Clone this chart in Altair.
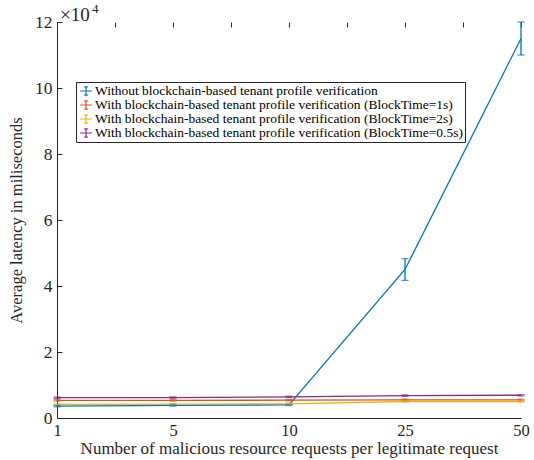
import altair as alt
import pandas as pd

categories = ["1", "5", "10", "25", "50"]
series_names = [
    "Without blockchain-based tenant profile verification",
    "With blockchain-based tenant profile verification (BlockTime=1s)",
    "With blockchain-based tenant profile verification (BlockTime=2s)",
    "With blockchain-based tenant profile verification (BlockTime=0.5s)",
]
colors = ["#0072BD", "#D95319", "#EDB120", "#7E2F8E"]

without_vals = [3600, 3800, 4000, 45000, 115000]
without_err = [200, 200, 200, 3300, 5000]
bt1_vals = [5350, 5350, 5400, 5500, 5500]
bt1_err = [200, 200, 200, 200, 200]
bt2_vals = [4150, 4200, 4300, 5000, 5000]
bt2_err = [200, 200, 200, 200, 200]
bt05_vals = [6150, 6200, 6400, 6800, 6900]
bt05_err = [200, 200, 200, 200, 200]

y_ticks = [0, 20000, 40000, 60000, 80000, 100000, 120000]

rows = []
for name, vals, errs in zip(series_names,
                            [without_vals, bt1_vals, bt2_vals, bt05_vals],
                            [without_err, bt1_err, bt2_err, bt05_err]):
    for i, (c, v, e) in enumerate(zip(categories, vals, errs)):
        rows.append({"series": name, "cat": c, "xi": i + 1, "value": v,
                     "lo": v - e, "hi": v + e})
df = pd.DataFrame(rows)

n = len(categories)
x_ticks = [1 + k * 0.5 for k in range(2 * (n - 1) + 1)]
label_expr = ("datum.value % 1 == 0 ? " + str(categories) + "[datum.value - 1] : ''")

FONT = "Liberation Serif"
AX = "#262626"

xscale = alt.Scale(domain=[1, n], nice=False, zero=False)
yscale = alt.Scale(domain=[0, 120000], nice=False)
cscale = alt.Scale(domain=series_names, range=colors)
color = alt.Color("series:N", scale=cscale, sort=series_names,
                  legend=alt.Legend(
                      title=None, orient="none", legendX=19, legendY=60,
                      labelFontSize=13.5, labelColor="#000",
                      symbolType="M-1,0H1M0,-0.7V0.7M-0.3,-0.7H0.3M-0.3,0.7H0.3",
                      symbolSize=140, symbolStrokeWidth=1.2, symbolFillColor="transparent",
                      strokeColor=AX, fillColor="white", padding=2,
                      rowPadding=0, labelOffset=2, symbolOffset=1,
                      labelLimit=600))

xenc = alt.X("xi:Q", scale=xscale,
             axis=alt.Axis(values=x_ticks, labelExpr=label_expr, title="Number of malicious resource requests per legitimate request",
                           titleFontSize=17, titleFontWeight="normal", titleColor=AX,
                           labelFontSize=16.5, labelColor=AX, labelPadding=4,
                           ticks=False, grid=True, gridDash=[5, 2000], gridColor=AX, gridOpacity=1,
                           gridWidth=1, domainColor=AX, titlePadding=2, labelFlush=False))
yenc = alt.Y("value:Q", scale=yscale,
             axis=alt.Axis(values=y_ticks, labelExpr="datum.value / 10000",
                           title="Average latency in miliseconds",
                           titleFontSize=16.5, titleFontWeight="normal", titleColor=AX,
                           labelFontSize=17.5, labelColor=AX, labelPadding=5,
                           ticks=False, grid=True, gridDash=[5, 2000], gridColor=AX, gridOpacity=1,
                           gridWidth=1, domainColor=AX, titlePadding=10))

base = alt.Chart(df)
lines = base.mark_line(strokeWidth=1.3).encode(x=xenc, y=yenc, color=color, order="xi:Q")
nolegend = alt.Color("series:N", legend=None, scale=cscale)
err = base.mark_rule(strokeWidth=1.3).encode(x="xi:Q", y="lo:Q", y2="hi:Q", color=nolegend)
cap_lo = base.mark_tick(orient="horizontal", size=7, thickness=1.3).encode(
    x="xi:Q", y="lo:Q", color=nolegend)
cap_hi = base.mark_tick(orient="horizontal", size=7, thickness=1.3).encode(
    x="xi:Q", y="hi:Q", color=nolegend)

exp_df = pd.DataFrame({"t": ["\u00d710"], "s": ["4"]})
exp_main = alt.Chart(exp_df).mark_text(fontSize=19, color=AX, align="left",
                                       baseline="alphabetic").encode(
    text="t:N", x=alt.value(3), y=alt.value(-1))
exp_sup = alt.Chart(exp_df).mark_text(fontSize=13, color=AX, align="left",
                                      baseline="alphabetic").encode(
    text="s:N", x=alt.value(35), y=alt.value(-9))

chart = alt.layer(lines, err, cap_lo, cap_hi, exp_main, exp_sup).properties(
    width=464, height=396,
    autosize=alt.AutoSizeParams(type="none"),
    padding={"left": 57, "top": 22, "right": 13, "bottom": 42},
    background="white",
).configure(font=FONT).configure_axis(labelFont=FONT, titleFont=FONT).configure_legend(
    labelFont=FONT).configure_text(font=FONT).configure_view(stroke=None)

chart.save("out.html", embed_options={"renderer": "svg", "actions": False})
